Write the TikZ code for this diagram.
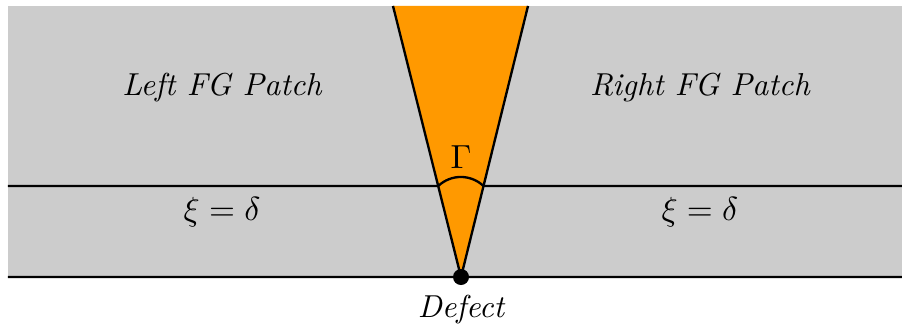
\documentclass[tikz,border=0pt]{standalone}
\usepackage{amsfonts,amssymb,amsmath}
\usepackage{xcolor}
\usetikzlibrary{calc}
\definecolor{fanorange}{RGB}{255,153,0}
\definecolor{patchgray}{RGB}{204,204,204}

\begin{document}
\begin{tikzpicture}[line width=0.7pt,
  lbl/.style={font=\fontsize{9.5}{11}\selectfont\itshape}]
\useasboundingbox (0,0) rectangle (9.495,3.442);
\fill[patchgray](0.084,0.526)rectangle(9.495,3.379);
\coordinate (d) at (4.853,0.526);
\coordinate (tl) at (4.137,3.379);
\coordinate (tr) at (5.558,3.379);
\coordinate (cl) at ($(d)!0.3358!(tl)$);
\coordinate (cr) at ($(d)!0.3358!(tr)$);
\coordinate (el) at (0.084,1.484);
\coordinate (er) at (9.495,1.484);
\coordinate (bl) at (0.084,0.526);
\coordinate (br) at (9.495,0.526);
\fill[fanorange](tl)--(d)--(tr)--cycle;
\draw(tl)--(d)--(tr);
\draw(el)--(cl)
(cr)--(er)
(bl)--(br);
\draw(cl)to[bend left=43](cr);
\fill(d)circle(2.4pt);
\node (gam) at (4.853,1.789){$\Gamma$};
\node[lbl] (lp) at (2.337,2.516){Left FG Patch};
\node[lbl] (rp) at (7.368,2.516){Right FG Patch};
\node (lx) at (2.337,1.211){$\xi=\delta$};
\node (rx) at (7.368,1.211){$\xi=\delta$};
\node[lbl] (def) at (4.853,0.179){Defect};
\end{tikzpicture}
\end{document}
